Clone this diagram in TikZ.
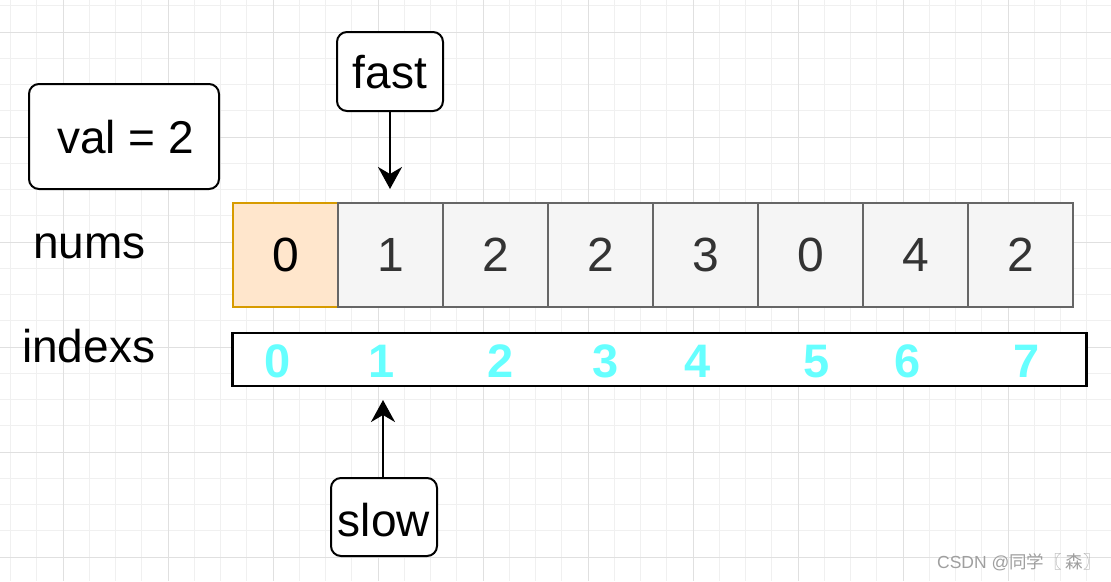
\documentclass[tikz,border=0pt]{standalone}
\usepackage{fontspec}
\setmainfont{Liberation Sans}
\newfontfamily\cjkfont{Noto Sans CJK SC}
\usetikzlibrary{arrows.meta}
\definecolor{minorgrid}{HTML}{F0F0F0}
\definecolor{majorgrid}{HTML}{E0E0E0}
\definecolor{orangefill}{HTML}{FFE6CC}
\definecolor{orangeline}{HTML}{D79B00}
\definecolor{cellfill}{HTML}{F5F5F5}
\definecolor{cellline}{HTML}{666666}
\definecolor{celltext}{HTML}{333333}
\definecolor{idxcyan}{HTML}{66FFFF}
\tikzset{
  lbl/.style={font=\fontsize{46}{50}\selectfont, inner sep=0},
  rbox/.style={draw=black, line width=2, rounded corners=10, fill=white, inner sep=0},
  cellbox/.style={draw=cellline, fill=cellfill, line width=2, minimum width=105, minimum height=104, inner sep=0, text=celltext, font=\fontsize{48}{50}\selectfont},
  firstcell/.style={cellbox, draw=orangeline, fill=orangefill, text=black},
  idx/.style={font=\fontsize{47}{50}\selectfont\bfseries, text=idxcyan, inner sep=0, anchor=base},
  arr/.style={line width=2.5, -{Stealth[length=22, width=24, inset=7]}},
}
\begin{document}
\begin{tikzpicture}[x=1pt, y=-1pt]
\useasboundingbox (0,0) rectangle (1111,581);
\fill[white] (0,0) rectangle (1111,581);
% grid
\foreach \i in {0,...,42} {
  \draw[minorgrid, line width=1] ({10.5+26.25*\i},0) -- ({10.5+26.25*\i},581);
}
\foreach \i in {0,...,22} {
  \draw[minorgrid, line width=1] (0,{5.75+26.25*\i}) -- (1111,{5.75+26.25*\i});
}
\foreach \i in {0,...,10} {
  \draw[majorgrid, line width=1] ({63+105*\i},0) -- ({63+105*\i},581);
}
\foreach \i in {0,...,5} {
  \draw[majorgrid, line width=1] (0,{32+105*\i}) -- (1111,{32+105*\i});
}
% val box
\node[rbox, minimum width=190, minimum height=105] (val) at (124,136.5) {};
\node[lbl, anchor=base west] (valtxt) at (57,153) {val = 2};
% fast
\node[rbox, minimum width=106, minimum height=79] (fast) at (390,71.5) {};
\node[lbl, anchor=base] (fasttxt) at (390,88) {fast};
\coordinate (ftip) at (390,189);
\draw[arr] (fast.south) -- (ftip);
% labels
\node[lbl, anchor=base west] (nums) at (33,258) {nums};
\node[lbl, anchor=base west] (indexs) at (22,362) {indexs};
% cells
\node[firstcell] (c0) at (285.5,255) {0};
\node[cellbox] (c1) at (390.5,255) {1};
\node[cellbox] (c2) at (495.5,255) {2};
\node[cellbox] (c3) at (600.5,255) {2};
\node[cellbox] (c4) at (705.5,255) {3};
\node[cellbox] (c5) at (810.5,255) {0};
\node[cellbox] (c6) at (915.5,255) {4};
\node[cellbox] (c7) at (1020.5,255) {2};
% index bar
\node[draw=black, line width=2.5, fill=white, minimum width=854, minimum height=53, inner sep=0] (bar) at (659.5,359.5) {};
\node[idx] (i0) at (278,377) {0};
\node[idx] (i1) at (382,377) {1};
\node[idx] (i2) at (501,377) {2};
\node[idx] (i3) at (606,377) {3};
\node[idx] (i4) at (698,377) {4};
\node[idx] (i5) at (817,377) {5};
\node[idx] (i6) at (908,377) {6};
\node[idx] (i7) at (1027,377) {7};
% slow
\node[rbox, minimum width=106, minimum height=78] (slow) at (384,517) {};
\node[lbl, anchor=base] (slowtxt) at (384,536) {slow};
\coordinate (stip) at (383,400);
\draw[arr] (slow.north -| stip) -- (stip);
% watermark
\node[anchor=base east, inner sep=0, text=gray!75, font=\fontsize{17.5}{20}\selectfont] (wm) at (1101,568) {CSDN @{\cjkfont 同学〖 森〗}};
\end{tikzpicture}
\end{document}
